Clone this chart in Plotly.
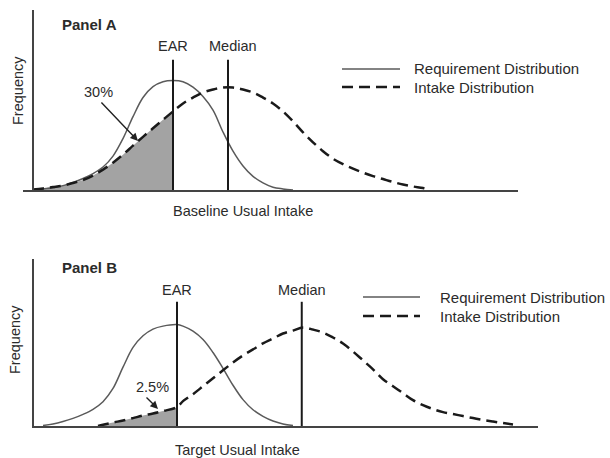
import plotly.graph_objects as go

W, H = 610, 458

# ---------------- data ----------------
# Panel A  (x: usual intake, arbitrary units; y: relative frequency, requirement peak = 100)
A_REQ_X = list(range(0, 108, 4))
A_REQ_Y = [0, 1, 2, 4, 7, 10.5, 15, 21, 31, 47, 67, 84.5, 94.5, 99, 100, 99, 94, 85.5,
           73, 53, 35.5, 22, 12.5, 6.5, 2.5, 1, 0]
A_INT_X = list(range(0, 160, 4)) + [158]
A_INT_Y = [0.5, 1.4, 2.7, 4.1, 6.4, 9.1, 13.2, 18.6, 25, 32.3,
           40.5, 48.6, 56.4, 64.1, 71.8, 79.1, 84.5, 89.1, 91.8, 93.6,
           93.6, 91.8, 89.1, 84.5, 79.1, 71.8, 62.7, 52.7, 43.6, 35.5,
           28.6, 23.6, 19.5, 15.9, 12.7, 10, 7.3, 5, 3.2, 1.8, 0.5]
EAR_A = 56
MEDIAN_A = 78
PCT_A = "30%"

# Panel B
B_REQ_X = [4, 8, 12, 16, 20, 24, 28, 32, 36, 40, 44, 48, 52, 57.6, 60, 64, 68, 72, 76,
           80, 84, 88, 92, 96, 100, 104]
B_REQ_Y = [0.5, 2, 4.4, 7.5, 11.5, 16.5, 24, 37, 58, 77.5, 89, 95.6, 98.5, 100,
           98.5, 93.5, 85.3, 72.5, 56.9, 40.2, 26, 16, 9.5, 4.9, 2, 0.5]
B_INT_X = [26, 28, 32, 36, 40, 44, 48, 52, 57.6] + list(range(60, 196, 4))
B_INT_Y = [0, 1.2, 3.4, 5.4, 7.8, 10.3, 12.3, 14.7, 18.6, 24.5,
           31.4, 39.2, 47.1, 54.9, 62.7, 69.6, 75.5, 81.4, 86.3, 91.2,
           94.1, 97.1, 95.1, 92.2, 87.3, 81.4, 73.5, 64.7, 55.9, 46.1,
           39.2, 32.4, 25.5, 20.6, 16.7, 13.7, 11.8, 9.8, 7.8, 5.9,
           4.4, 2.9, 1.5]
EAR_B = 57.6
MEDIAN_B = 107.5
PCT_B = "2.5%"

LEGEND_NAMES = ["Requirement Distribution", "Intake Distribution"]
X_TITLES = ["Baseline Usual Intake", "Target Usual Intake"]

# ---------------- styles ----------------
FONT = "Liberation Sans, Arial, Helvetica, sans-serif"
TXT = "#2b2b2b"
AXIS_C = "#444444"
REQ_C = "#5a5a5a"
INT_C = "#1a1a1a"
VLINE_C = "#1a1a1a"
FILL_C = "#a3a3a3"
DASH = "11px,6px"


def px(x):
    return x / W


def py(y):
    return 1 - y / H


fig = go.Figure()


def add_panel(xr, yr, req_x, req_y, int_x, int_y, ear, median, vtop):
    sx = [x for x in int_x if x <= ear]
    sy = [int_y[i] for i, x in enumerate(int_x) if x <= ear]
    fig.add_trace(go.Scatter(x=sx, y=sy, xaxis=xr, yaxis=yr, mode="lines",
                             line=dict(width=0, shape="spline", color=FILL_C),
                             fill="tozeroy", fillcolor=FILL_C, hoverinfo="skip",
                             showlegend=False))
    fig.add_trace(go.Scatter(x=req_x, y=req_y, xaxis=xr, yaxis=yr, mode="lines",
                             line=dict(width=1.5, color=REQ_C, shape="spline"),
                             showlegend=False))
    fig.add_trace(go.Scatter(x=int_x, y=int_y, xaxis=xr, yaxis=yr, mode="lines",
                             line=dict(width=2.5, color=INT_C, shape="spline", dash=DASH),
                             showlegend=False))
    for v in (ear, median):
        fig.add_trace(go.Scatter(x=[v, v], y=[0, vtop], xaxis=xr, yaxis=yr, mode="lines",
                                 line=dict(width=2, color=VLINE_C), showlegend=False))


add_panel("x", "y", A_REQ_X, A_REQ_Y, A_INT_X, A_INT_Y, EAR_A, MEDIAN_A, 119)
add_panel("x2", "y2", B_REQ_X, B_REQ_Y, B_INT_X, B_INT_Y, EAR_B, MEDIAN_B, 122.5)

ax_common = dict(showgrid=False, zeroline=False, showticklabels=False, ticks="",
                 showline=True, linecolor=AXIS_C, linewidth=2, fixedrange=True)

fig.update_layout(
    width=W, height=H, margin=dict(l=0, r=0, t=0, b=0),
    paper_bgcolor="white", plot_bgcolor="rgba(0,0,0,0)",
    showlegend=False,
    xaxis=dict(domain=[px(23), px(518)], range=[-4, 194], anchor="y", **ax_common),
    yaxis=dict(domain=[py(190), py(10)], range=[0, 164.5], anchor="free",
               position=px(33), **ax_common),
    xaxis2=dict(domain=[px(32), px(538)], range=[-0.4, 202], anchor="y2", **ax_common),
    yaxis2=dict(domain=[py(426), py(259)], range=[0, 164.7], anchor="free",
                position=px(33), **ax_common),
)

ann = []


def text(x, y, s, size=14.5, xanchor="center", bold=False, angle=0, xref="paper"):
    ann.append(dict(x=x, y=y, xref=xref, yref="paper", text=(f"<b>{s}</b>" if bold else s),
                    showarrow=False, xanchor=xanchor, yanchor="middle", textangle=angle,
                    font=dict(family=FONT, size=size, color=TXT)))


def arrow(x0, y0, x1, y1):
    ann.append(dict(x=px(x1), y=py(y1), xref="paper", yref="paper", text="",
                    showarrow=True, ax=x0 - x1, ay=y0 - y1, arrowhead=2, arrowsize=1.1,
                    arrowwidth=1.4, arrowcolor="#222222"))


# Panel A texts
text(px(60), py(25), "Panel A", size=15, xanchor="left", bold=True)
text(EAR_A, py(46), "EAR", xref="x")
text(px(233), py(46), "Median")
text(px(98), py(92), PCT_A)
arrow(100, 101, 138, 141)
text(px(243), py(211), X_TITLES[0])
text(px(18), py(91), "Frequency", angle=-90)
text(px(412), py(69), LEGEND_NAMES[0], size=15, xanchor="left")
text(px(412), py(87), LEGEND_NAMES[1], size=15, xanchor="left")

# Panel B texts
text(px(60), py(267), "Panel B", size=15, xanchor="left", bold=True)
text(EAR_B, py(290), "EAR", xref="x2")
text(px(302), py(290), "Median")
text(px(152), py(387), PCT_B)
arrow(145, 396, 158, 409)
text(px(237), py(450), X_TITLES[1])
text(px(15), py(340), "Frequency", angle=-90)
text(px(438), py(297), LEGEND_NAMES[0], size=15, xanchor="left")
text(px(438), py(316), LEGEND_NAMES[1], size=15, xanchor="left")

fig.update_layout(annotations=ann)

# legend samples
shapes = []
for (x0, x1, y1, y2) in [(342, 400, 69, 87), (363, 420, 297, 316)]:
    shapes.append(dict(type="line", xref="paper", yref="paper", x0=px(x0), x1=px(x1),
                       y0=py(y1), y1=py(y1), line=dict(color=REQ_C, width=1.5)))
    shapes.append(dict(type="line", xref="paper", yref="paper", x0=px(x0), x1=px(x1),
                       y0=py(y2), y1=py(y2), line=dict(color=INT_C, width=2.5, dash=DASH)))
fig.update_layout(shapes=shapes)

fig.write_html("out.html", config={"displayModeBar": False, "staticPlot": True},
               post_script="document.body.style.margin='0';document.body.style.padding='0';")
